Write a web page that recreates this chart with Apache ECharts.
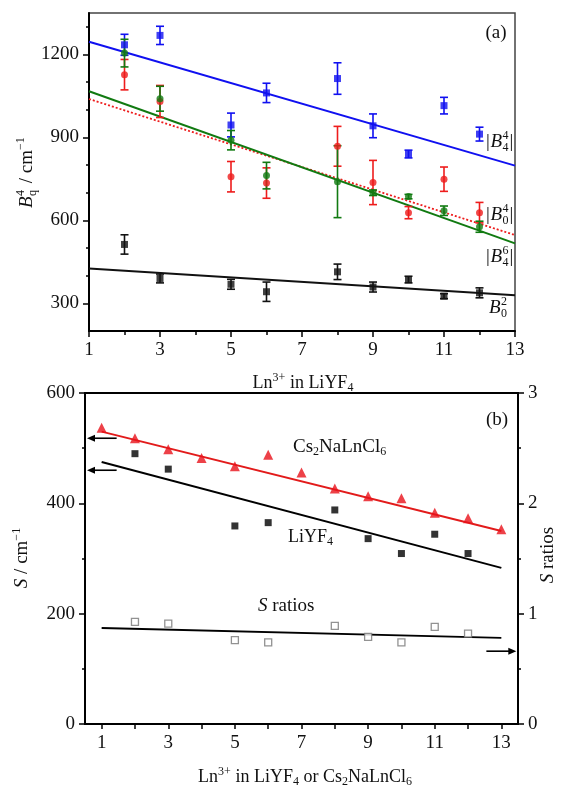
<!DOCTYPE html>
<html>
<head>
<meta charset="utf-8">
<script src="https://cdn.jsdelivr.net/npm/echarts@6/dist/echarts.min.js"></script>
<style>html,body{margin:0;padding:0;background:#fff}#c{width:571px;height:789px}</style>
</head>
<body>
<div id="c"></div>
<script>
// ---------- Panel (a) data ----------
const xTop = [2, 3, 5, 6, 8, 9, 10, 11, 12];
const b44 = [1235, 1269, 945, 1061, 1113, 942, 840, 1015, 912];
const b44Err = [38, 33, 43, 35, 57, 43, 14, 30, 25];
const b04 = [1127, 1030, 758, 735, 868, 737, 628, 749, 628];
const b04Err = [55, 58, 55, 55, 72, 80, 22, 44, 37];
const b64 = [1205, 1040, 890, 762, 740, 700, 686, 635, 577];
const b64Err = [50, 45, 35, 48, 130, 10, 8, 17, 20];
const b02 = [513, 390, 369, 342, 414, 359, 386, 326, 338];
const b02Err = [35, 16, 18, 35, 28, 18, 12, 9, 18];
const fitX = [1, 13];
const b44Fit = [1246, 798];
const b04Fit = [1039, 547];
const b64Fit = [1067, 517];
const b02Fit = [426, 329];
const topYLabels = [300, 600, 900, 1200];
const topYMinor = [300, 400, 500, 600, 700, 800, 900, 1000, 1100, 1200, 1300];
const xLabels = [1, 3, 5, 7, 9, 11, 13];
const xMinor = [2, 4, 6, 8, 10, 12];

// ---------- Panel (b) data ----------
const xCs = [1, 2, 3, 4, 5, 6, 7, 8, 9, 10, 11, 12, 13];
const cs = [537, 518, 498, 482, 467, 488, 456, 427, 413, 409, 383, 373, 353];
const xLi = [2, 3, 5, 6, 8, 9, 10, 11, 12];
const li = [490, 462, 359, 365, 388, 336, 309, 344, 309];
const ratio = [0.925, 0.91, 0.76, 0.74, 0.89, 0.79, 0.74, 0.88, 0.82];
const csFit = [530, 350];
const liFit = [475, 283];
const ratioFit = [0.87, 0.78];
// arrows: [xFrom, xTo, value]
const arrowsLeft = [[1.45, 0.56, 518], [1.45, 0.56, 460]];
const arrowsRight = [[12.55, 13.45, 0.66]];
const xTicksB = [1, 2, 3, 4, 5, 6, 7, 8, 9, 10, 11, 12, 13];

const FONT = '"Liberation Serif","DejaVu Serif",serif';
const chart = echarts.init(document.getElementById('c'), null, {renderer: 'canvas'});

const pairs = (xs, ys) => xs.map((x, i) => [x, ys[i]]);
const plain = v => String(v);

function errSeries(xs, ys, es, color, xi, yi) {
  return {
    type: 'custom', xAxisIndex: xi, yAxisIndex: yi, z: 3,
    data: xs.map((x, i) => [x, ys[i], es[i]]),
    encode: {x: 0, y: 1},
    renderItem: function (params, api) {
      const x = api.value(0), y = api.value(1), e = api.value(2);
      const t = api.coord([x, y + e]), b = api.coord([x, y - e]);
      const w = 4, st = {stroke: color, lineWidth: 1.6};
      return {type: 'group', children: [
        {type: 'line', shape: {x1: t[0], y1: t[1], x2: b[0], y2: b[1]}, style: st},
        {type: 'line', shape: {x1: t[0] - w, y1: t[1], x2: t[0] + w, y2: t[1]}, style: st},
        {type: 'line', shape: {x1: b[0] - w, y1: b[1], x2: b[0] + w, y2: b[1]}, style: st}
      ]};
    }
  };
}
function arrowSeries(arr, xi, yi) {
  return {
    type: 'custom', xAxisIndex: xi, yAxisIndex: yi, z: 5, silent: true,
    data: arr, encode: {x: [0, 1], y: 2},
    renderItem: function (params, api) {
      const a = api.coord([api.value(0), api.value(2)]);
      const b = api.coord([api.value(1), api.value(2)]);
      const dir = b[0] > a[0] ? 1 : -1;
      const hl = 8, hw = 3.5;
      return {type: 'group', children: [
        {type: 'line', shape: {x1: a[0], y1: a[1], x2: b[0] - dir * hl * 0.6, y2: b[1]}, style: {stroke: '#000', lineWidth: 1.6}},
        {type: 'polygon', shape: {points: [[b[0], b[1]], [b[0] - dir * hl, b[1] - hw], [b[0] - dir * hl, b[1] + hw]]}, style: {fill: '#000'}}
      ]};
    }
  };
}
function pts(xs, ys, color, symbol, size, xi, yi, extra) {
  return Object.assign({type: 'scatter', xAxisIndex: xi, yAxisIndex: yi, symbol: symbol, symbolSize: size,
    itemStyle: {color: color}, data: pairs(xs, ys), z: 4}, extra || {});
}
function fit(ys, color, width, type, xi, yi) {
  return {type: 'line', xAxisIndex: xi, yAxisIndex: yi, showSymbol: false, symbol: 'none',
    lineStyle: {color: color, width: width, type: type}, data: pairs(fitX, ys), z: 2};
}

const blue = '#1010f0', red = '#ee1c1c', green = '#117a11', black = '#111';

function txt(x, y, text, fs, opts) {
  return Object.assign({type: 'text', x: x, y: y, style: Object.assign({text: text, fontSize: fs, fontFamily: FONT, fill: '#111',
    textAlign: 'left', textVerticalAlign: 'middle'}, (opts && opts.style) || {})}, (opts && opts.el) || {});
}
function richStyle(fs) {
  return {
    sub: {fontSize: 12, fontFamily: FONT, verticalAlign: 'bottom', lineHeight: 12, fill: '#111'},
    sup: {fontSize: 12, fontFamily: FONT, verticalAlign: 'top', lineHeight: 12, fill: '#111'},
    i: {fontSize: fs, fontFamily: FONT, fontStyle: 'italic', fill: '#111'},
    n: {fontSize: fs, fontFamily: FONT, fill: '#111'}
  };
}
function rich(x, y, text, fs, align, rotation) {
  return {type: 'text', x: x, y: y, rotation: rotation || 0,
    style: {text: text, rich: richStyle(fs), fontSize: fs, fontFamily: FONT, fill: '#111', lineHeight: 22,
      textAlign: align || 'left', textVerticalAlign: 'middle'}};
}
function stack(x, y, sup, sub, bars) {
  const ch = [];
  let cx = 0;
  if (bars) { ch.push(txt(cx, 0, '|', 19)); cx += 4.5; }
  ch.push(txt(cx, 0, 'B', 19, {style: {fontStyle: 'italic'}}));
  cx += 12;
  ch.push(txt(cx, -6, sup, 12));
  ch.push(txt(cx, 6, sub, 12));
  cx += 7;
  if (bars) ch.push(txt(cx, 0, '|', 19));
  return {type: 'group', x: x, y: y, children: ch};
}

const yTitleA = {type: 'group', x: 27, y: 172, rotation: Math.PI / 2, children: [
  txt(-36, 0, 'B', 19, {style: {fontStyle: 'italic'}}),
  txt(-24, -6, '4', 12),
  txt(-24, 6, 'q', 12),
  txt(-16, 0, ' / cm', 19),
  txt(22, -6, '\u22121', 12)
]};

const lbl = {fontSize: 19, fontFamily: FONT, color: '#111', margin: 10, formatter: plain};
const tickStyle = {color: '#000', width: 1.5};

const option = {
  animation: false,
  backgroundColor: '#fff',
  textStyle: {fontFamily: FONT},
  grid: [
    {left: 89, right: 56, top: 13, bottom: 458, show: true, borderColor: '#444', borderWidth: 1.5, backgroundColor: 'transparent'},
    {left: 85, right: 53, top: 393, bottom: 65, show: true, borderColor: '#000', borderWidth: 2, backgroundColor: 'transparent'}
  ],
  xAxis: [
    {type: 'value', gridIndex: 0, position: 'bottom', min: 1, max: 13, splitLine: {show: false},
      axisLine: {lineStyle: {color: '#000', width: 2}},
      axisTick: {customValues: xLabels, length: 6, lineStyle: tickStyle},
      axisLabel: Object.assign({customValues: xLabels}, lbl)},
    {type: 'value', gridIndex: 0, position: 'bottom', min: 1, max: 13, splitLine: {show: false},
      axisLine: {show: false}, axisLabel: {show: false},
      axisTick: {customValues: xMinor, length: 4, lineStyle: tickStyle}},
    {type: 'value', gridIndex: 1, position: 'bottom', min: 0.5, max: 13.5, splitLine: {show: false},
      axisLine: {lineStyle: {color: '#000', width: 2}},
      axisTick: {customValues: xTicksB, length: 5, lineStyle: tickStyle},
      axisLabel: Object.assign({customValues: xLabels}, lbl)}
  ],
  yAxis: [
    {type: 'value', gridIndex: 0, position: 'left', min: 200, max: 1350, splitLine: {show: false},
      axisLine: {show: true, lineStyle: {color: '#000', width: 2}},
      axisTick: {show: true, customValues: topYLabels, length: 6, lineStyle: tickStyle},
      axisLabel: Object.assign({customValues: topYLabels}, lbl)},
    {type: 'value', gridIndex: 0, position: 'left', min: 200, max: 1350, splitLine: {show: false},
      axisLine: {show: false}, axisLabel: {show: false},
      axisTick: {show: true, customValues: topYMinor, length: 3, lineStyle: tickStyle}},
    {type: 'value', gridIndex: 1, position: 'left', min: 0, max: 600, interval: 200, splitLine: {show: false},
      axisLine: {show: true, lineStyle: {color: '#000', width: 2}},
      axisTick: {show: true, length: 6, lineStyle: tickStyle},
      minorTick: {show: true, splitNumber: 2, length: 3, lineStyle: tickStyle},
      axisLabel: lbl},
    {type: 'value', gridIndex: 1, position: 'right', min: 0, max: 3, interval: 1, splitLine: {show: false},
      axisLine: {show: true, lineStyle: {color: '#000', width: 2}},
      axisTick: {show: true, length: 6, lineStyle: tickStyle},
      minorTick: {show: true, splitNumber: 2, length: 3, lineStyle: tickStyle},
      axisLabel: lbl}
  ],
  series: [
    fit(b44Fit, blue, 2, 'solid', 0, 0),
    fit(b04Fit, red, 1.8, [2, 2], 0, 0),
    fit(b64Fit, green, 2, 'solid', 0, 0),
    fit(b02Fit, black, 2, 'solid', 0, 0),
    errSeries(xTop, b44, b44Err, blue, 0, 0),
    errSeries(xTop, b04, b04Err, red, 0, 0),
    errSeries(xTop, b64, b64Err, green, 0, 0),
    errSeries(xTop, b02, b02Err, black, 0, 0),
    pts(xTop, b44, blue, 'rect', 7, 0, 0),
    pts(xTop, b04, red, 'circle', 7, 0, 0),
    pts(xTop, b64, green, 'circle', 7, 0, 0),
    pts(xTop, b02, black, 'rect', 7, 0, 0),
    // panel (b)
    {type: 'line', xAxisIndex: 2, yAxisIndex: 2, showSymbol: false, symbol: 'none',
      lineStyle: {color: '#e21b1b', width: 2}, data: pairs(fitX, csFit), z: 2},
    {type: 'line', xAxisIndex: 2, yAxisIndex: 2, showSymbol: false, symbol: 'none',
      lineStyle: {color: '#000', width: 2}, data: pairs(fitX, liFit), z: 2},
    {type: 'line', xAxisIndex: 2, yAxisIndex: 3, showSymbol: false, symbol: 'none',
      lineStyle: {color: '#000', width: 1.8}, data: pairs(fitX, ratioFit), z: 2},
    arrowSeries(arrowsLeft, 2, 2),
    arrowSeries(arrowsRight, 2, 3),
    pts(xCs, cs, '#e8121a', 'triangle', 10, 2, 2),
    pts(xLi, li, '#000', 'rect', 7, 2, 2),
    pts(xLi, ratio, '#fff', 'rect', 7, 2, 3, {itemStyle: {color: '#fff', borderColor: '#777', borderWidth: 1.3}})
  ],
  graphic: [
    txt(496, 33, '(a)', 19, {style: {textAlign: 'center'}}),
    txt(497, 420, '(b)', 19, {style: {textAlign: 'center'}}),
    stack(486, 142, '4', '4', true),
    stack(486, 215, '4', '0', true),
    stack(486, 257, '6', '4', true),
    stack(489, 308, '2', '0', false),
    yTitleA,
    rich(303, 383, '{n|Ln}{sup|3+}{n| in LiYF}{sub|4}', 18, 'center'),
    rich(305, 777, '{n|Ln}{sup|3+}{n| in LiYF}{sub|4}{n| or Cs}{sub|2}{n|NaLnCl}{sub|6}', 18, 'center'),
    rich(293, 447, '{n|Cs}{sub|2}{n|NaLnCl}{sub|6}', 19, 'left'),
    rich(288, 537, '{n|LiYF}{sub|4}', 18, 'left'),
    rich(258, 606, '{i|S}{n| ratios}', 19, 'left'),
    rich(22, 558, '{i|S}{n| / cm}{sup|\u22121}', 19, 'center', Math.PI / 2),
    rich(548, 555, '{i|S}{n| ratios}', 19, 'center', Math.PI / 2)
  ]
};
chart.setOption(option);
</script>
</body>
</html>
